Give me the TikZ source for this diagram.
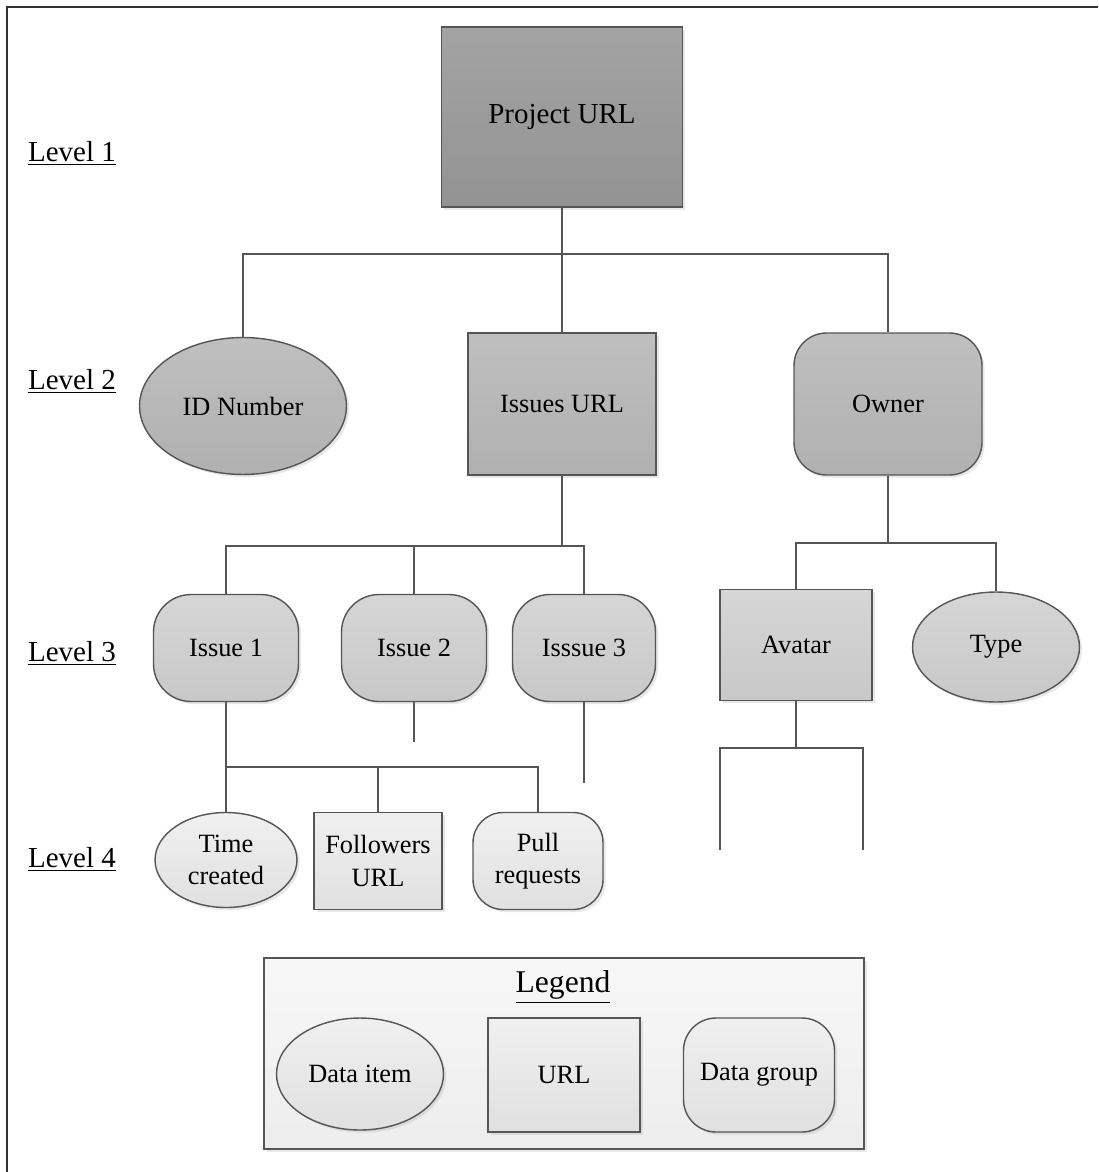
\documentclass[tikz,border=0pt]{standalone}
\usepackage{fontspec}
\setmainfont{Liberation Serif}
\usetikzlibrary{shapes.geometric,shadows}
\definecolor{edge}{HTML}{555555}
\definecolor{lone}{HTML}{A3A3A3}
\definecolor{lonebot}{HTML}{939393}
\definecolor{ltwo}{HTML}{BFBFBF}
\definecolor{ltwobot}{HTML}{B0B0B0}
\definecolor{lthree}{HTML}{D6D6D6}
\definecolor{lthreebot}{HTML}{C8C8C8}
\definecolor{lfour}{HTML}{F0F0F0}
\definecolor{lfourbot}{HTML}{E0E0E0}
\begin{document}
\begin{tikzpicture}[x=0.02cm, y=-0.02cm,
    font=\fontsize{15}{18.5}\selectfont,
    basebox/.style = {draw=edge, line width=0.8pt, align=center, inner sep=2pt,
        drop shadow={shadow xshift=1.5pt, shadow yshift=-1.5pt, opacity=0.18}},
    item/.style = {basebox, ellipse},
    url/.style = {basebox, rectangle},
    group/.style = {basebox, rectangle, rounded corners=0.65cm},
    lone/.style = {top color=lone, bottom color=lonebot},
    ltwo/.style = {top color=ltwo, bottom color=ltwobot},
    lthree/.style = {top color=lthree, bottom color=lthreebot},
    lfour/.style = {top color=lfour, bottom color=lfourbot},
    level/.style = {font=\fontsize{16.5}{19}\selectfont},
    link/.style = {draw=edge, line width=1pt}]
    \useasboundingbox (0,0) rectangle (1098,1172);
    % frame
    \draw[line width=1.2pt, black!80] (1098,7) -- (7,7) -- (7,1172);
    % level labels
    \node[level] (lev1) at (72,153) {\underline{Level 1}};
    \node[level] (lev2) at (72,381) {\underline{Level 2}};
    \node[level] (lev3) at (72,653) {\underline{Level 3}};
    \node[level] (lev4) at (72,859) {\underline{Level 4}};
    % level 1
    \node[url, lone, minimum width=4.82cm, minimum height=3.6cm, font=\fontsize{16.5}{19}\selectfont] (project) at (562,117) {Project URL};
    % level 2
    \node[item, ltwo, minimum width=4.14cm, minimum height=2.74cm] (idnum) at (243,406) {ID Number};
    \node[url, ltwo, minimum width=3.76cm, minimum height=2.84cm] (issues) at (562,404) {Issues URL};
    \node[group, ltwo, minimum width=3.76cm, minimum height=2.84cm] (owner) at (888,404) {Owner};
    % level 3
    \node[group, lthree, rounded corners=0.75cm, minimum width=2.9cm, minimum height=2.14cm] (iss1) at (226,648) {Issue 1};
    \node[group, lthree, rounded corners=0.75cm, minimum width=2.9cm, minimum height=2.14cm] (iss2) at (414,648) {Issue 2};
    \node[group, lthree, rounded corners=0.75cm, minimum width=2.86cm, minimum height=2.14cm] (iss3) at (584,648) {Isssue 3};
    \node[url, lthree, minimum width=3.04cm, minimum height=2.22cm] (avatar) at (796,645) {Avatar};
    \node[item, lthree, minimum width=3.34cm, minimum height=2.2cm] (type) at (996,647) {Type};
    % level 4
    \node[item, lfour, minimum width=2.84cm, minimum height=1.9cm] (time) at (226,860) {Time\\created};
    \node[url, lfour, minimum width=2.56cm, minimum height=1.94cm] (follow) at (378,861) {Followers\\URL};
    \node[group, lfour, rounded corners=0.6cm, minimum width=2.6cm, minimum height=1.94cm] (pull) at (538,861) {Pull\\requests};
    % connectors
    \coordinate (j1) at (562,254);
    \draw[link] (project.south) -- (j1);
    \draw[link] (idnum.north) |- (j1) -| (owner.north);
    \draw[link] (j1) -- (issues.north);
    \coordinate (j2) at (562,546);
    \draw[link] (issues.south) -- (j2);
    \draw[link] (iss1.north) |- (j2) -| (iss3.north);
    \draw[link] (iss2.north) -- (iss2.north |- j2);
    \coordinate (s2) at (414,742);
    \coordinate (s3) at (584,783);
    \draw[link] (iss2.south) -- (s2);
    \draw[link] (iss3.south) -- (s3);
    \coordinate (j3) at (226,767);
    \draw[link] (iss1.south) -- (j3) -- (time.north);
    \draw[link] (j3) -| (pull.north);
    \draw[link] (follow.north) -- (follow.north |- j3);
    \coordinate (j4) at (888,543);
    \draw[link] (owner.south) -- (j4);
    \draw[link] (avatar.north) |- (j4) -| (type.north);
    \coordinate (j5) at (796,748);
    \coordinate (a1) at (720,850);
    \coordinate (a2) at (863,850);
    \draw[link] (avatar.south) -- (j5);
    \draw[link] (a1) |- (j5) -| (a2);
    % legend
    \node[url, top color=white!97!black, bottom color=white!93!black, minimum width=12cm, minimum height=3.82cm] (legendbox) at (564,1053.5) {};
    \node[font=\fontsize{18}{21}\selectfont] (legendtitle) at (563,987) {\underline{Legend}};
    \node[item, lfour, minimum width=3.34cm, minimum height=2.24cm] (dataitem) at (360,1074) {Data item};
    \node[url, lfour, minimum width=3.04cm, minimum height=2.28cm] (urlkey) at (564,1075) {URL};
    \node[group, lfour, minimum width=3.02cm, minimum height=2.28cm] (datagroup) at (759,1075) {Data group};
\end{tikzpicture}
\end{document}
